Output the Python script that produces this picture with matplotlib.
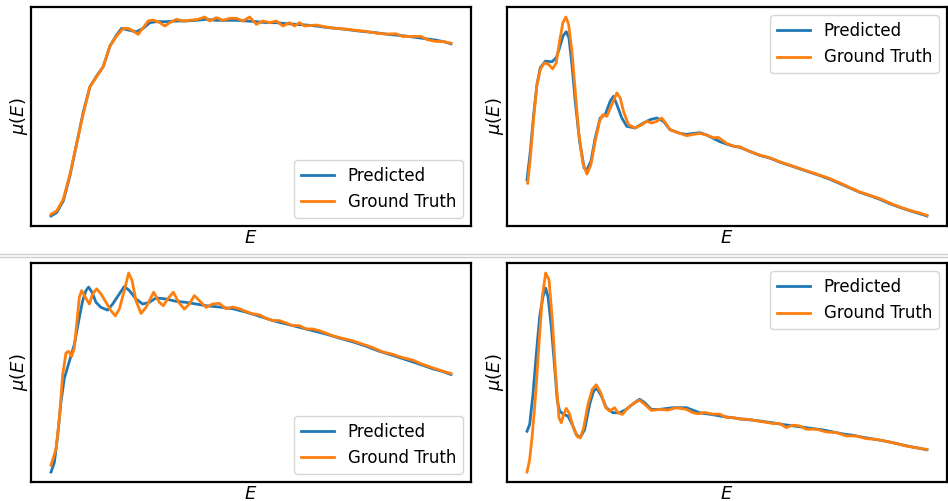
import numpy as np
import matplotlib.pyplot as plt
from matplotlib.lines import Line2D

# ---- spectra (arbitrary units, depth from top) ----
# panel 1 (top left)
e1_gt = [153, 170, 190, 210, 230, 250, 270, 290, 310, 330, 350, 370, 385, 400, 415, 430, 445, 460, 480, 495,
         510, 530, 550, 570, 595, 615, 630, 650, 670, 690, 710, 730, 750, 770, 790, 810, 830, 850, 870, 885,
         900, 915, 950, 980, 1010, 1040, 1070, 1100, 1130, 1160, 1190, 1210, 1240, 1265, 1285, 1310, 1330, 1355]
mu1_gt = [640, 630, 595, 520, 430, 340, 260, 230, 200, 139, 109, 86, 86, 94, 104, 84, 64, 61, 69, 79,
          69, 59, 64, 62, 59, 52, 64, 54, 62, 56, 56, 64, 52, 74, 64, 69, 64, 79, 69, 79,
          69, 79, 76, 82, 86, 88, 92, 95, 100, 103, 102, 110, 110, 110, 120, 125, 125, 130]
e1_pr = [153, 170, 190, 210, 230, 250, 270, 290, 310, 330, 350, 365, 390, 410, 430, 450, 470, 500, 530, 560,
         590, 620, 650, 680, 710, 740, 770, 800, 830, 860, 890, 920, 950, 980, 1010, 1040, 1070, 1100, 1130,
         1160, 1190, 1220, 1250, 1280, 1310, 1335, 1355]
mu1_pr = [645, 635, 600, 525, 430, 335, 260, 228, 200, 139, 106, 86, 92, 96, 86, 69, 66, 66, 64, 64,
          62, 59, 62, 62, 62, 64, 66, 69, 69, 72, 74, 76, 79, 83, 86, 89, 93, 96, 99,
          103, 106, 109, 113, 117, 121, 126, 132]

# panel 2 (top right)
e2_gt = [172, 180, 190, 200, 210, 222, 235, 247, 258, 268, 278, 287, 295, 305, 315, 325, 338, 350, 362, 375,
         388, 398, 410, 425, 440, 450, 460, 475, 495, 515, 530, 545, 560, 575, 590, 600, 630, 650, 670, 690,
         710, 730, 745, 770, 790, 810, 830, 850, 870, 900, 930, 960, 990, 1020, 1050, 1080, 1110, 1140,
         1170, 1200, 1230, 1260, 1290, 1320, 1350, 1372]
mu2_gt = [549, 474, 354, 254, 209, 189, 194, 207, 189, 124, 69, 52, 74, 154, 274, 394, 489, 522, 494, 424,
          364, 344, 349, 314, 279, 294, 334, 374, 384, 374, 364, 369, 364, 354, 374, 389, 400, 407, 403, 400,
          405, 413, 412, 430, 438, 440, 450, 458, 465, 473, 485, 495, 505, 515, 525, 535, 548, 562,
          575, 585, 595, 608, 620, 630, 638, 645]
e2_pr = [170, 180, 190, 200, 210, 225, 245, 258, 268, 278, 288, 296, 305, 315, 328, 342, 350, 362, 375, 390,
         405, 420, 430, 440, 455, 470, 495, 520, 540, 560, 580, 600, 630, 650, 670, 690, 710, 730, 750, 770,
         790, 810, 830, 850, 870, 900, 930, 960, 990, 1020, 1050, 1080, 1110, 1140, 1170, 1200, 1230, 1260,
         1290, 1320, 1350, 1372]
mu2_pr = [539, 454, 344, 254, 204, 184, 186, 174, 144, 109, 96, 114, 194, 304, 424, 504, 509, 484, 414, 354,
          344, 304, 289, 314, 354, 379, 384, 369, 359, 354, 364, 389, 400, 403, 400, 398, 405, 415, 425, 432,
          438, 442, 450, 458, 466, 474, 486, 496, 506, 516, 526, 537, 550, 563, 576, 586, 597, 610,
          621, 631, 640, 647]

# panel 3 (bottom left)
e3_gt = [155, 170, 180, 190, 200, 208, 217, 225, 233, 240, 247, 255, 270, 280, 292, 305, 320, 335, 348, 360,
         375, 388, 398, 410, 425, 440, 463, 480, 492, 505, 522, 538, 555, 570, 585, 600, 620, 640, 660, 680,
         700, 720, 740, 760, 780, 800, 820, 840, 860, 880, 900, 920, 940, 960, 980, 1000, 1030, 1060, 1090,
         1120, 1150, 1180, 1210, 1240, 1270, 1300, 1330, 1355]
mu3_gt = [674, 626, 536, 406, 341, 336, 351, 326, 246, 176, 156, 171, 196, 166, 151, 166, 191, 216, 231, 211,
          156, 104, 126, 186, 224, 206, 161, 191, 201, 181, 161, 191, 211, 196, 171, 186, 206, 196, 194, 210,
          205, 210, 218, 225, 228, 238, 245, 245, 252, 260, 260, 270, 270, 275, 282, 290, 298, 305, 315,
          325, 338, 345, 355, 362, 375, 385, 395, 402]
e3_pr = [155, 165, 175, 185, 195, 210, 225, 238, 250, 260, 268, 278, 290, 305, 325, 340, 360, 375, 390, 410,
         430, 450, 470, 500, 530, 560, 590, 620, 660, 700, 740, 780, 820, 860, 900, 940, 980, 1020, 1060,
         1100, 1140, 1180, 1220, 1260, 1300, 1330, 1355]
mu3_pr = [694, 666, 586, 486, 416, 366, 316, 246, 186, 156, 146, 161, 191, 206, 214, 196, 166, 144, 156, 181,
          196, 191, 178, 181, 188, 191, 196, 201, 205, 210, 220, 232, 245, 255, 265, 275, 285, 297, 308,
          321, 336, 348, 361, 374, 388, 396, 405]

# panel 4 (bottom right)
e4_gt = [172, 180, 188, 198, 208, 218, 228, 238, 248, 258, 268, 275, 282, 290, 300, 310, 322, 332, 342, 355,
         368, 380, 393, 408, 420, 435, 445, 458, 475, 495, 510, 525, 545, 570, 595, 620, 650, 670, 685, 705,
         730, 750, 770, 790, 810, 830, 850, 880, 910, 930, 950, 970, 990, 1010, 1040, 1070, 1100, 1130,
         1160, 1190, 1220, 1250, 1280, 1310, 1340, 1372]
mu4_gt = [697, 660, 586, 466, 316, 176, 106, 126, 246, 406, 536, 551, 526, 508, 526, 561, 591, 596, 566, 496,
          451, 438, 461, 506, 516, 506, 521, 526, 506, 491, 484, 496, 514, 511, 513, 506, 511, 521, 524, 520,
          525, 525, 535, 535, 540, 540, 543, 548, 553, 553, 565, 558, 560, 570, 570, 578, 580, 590,
          590, 598, 600, 606, 612, 620, 625, 630]
e4_pr = [172, 180, 190, 200, 210, 220, 228, 235, 245, 255, 263, 270, 282, 295, 308, 320, 332, 345, 360, 372,
         382, 395, 410, 430, 450, 470, 495, 510, 525, 545, 570, 610, 650, 690, 730, 760, 790, 820, 850, 880,
         910, 940, 970, 1000, 1030, 1060, 1090, 1120, 1150, 1180, 1210, 1240, 1270, 1300, 1330, 1372]
mu4_pr = [576, 556, 466, 346, 236, 176, 151, 176, 266, 386, 486, 516, 526, 531, 556, 586, 594, 571, 496, 456,
          449, 471, 506, 521, 521, 511, 491, 481, 491, 511, 511, 506, 506, 521, 527, 532, 536, 540, 543, 547,
          551, 556, 560, 564, 568, 572, 578, 584, 588, 594, 599, 604, 610, 617, 623, 631]

panels = [
    (e1_pr, mu1_pr, e1_gt, mu1_gt, 'lower right'),
    (e2_pr, mu2_pr, e2_gt, mu2_gt, 'upper right'),
    (e3_pr, mu3_pr, e3_gt, mu3_gt, 'lower right'),
    (e4_pr, mu4_pr, e4_gt, mu4_gt, 'upper right'),
]

fig = plt.figure(figsize=(9.48, 5.01), dpi=100)
boxes = [
    [0.0327, 0.549, 0.4641, 0.437],
    [0.5348, 0.549, 0.4641, 0.437],
    [0.0327, 0.038, 0.4641, 0.437],
    [0.5348, 0.038, 0.4641, 0.437],
]

for box, (ep, mp, eg, mg, loc) in zip(boxes, panels):
    ax = fig.add_axes(box)
    # readings are depth from the top, flip to get absorption
    ax.plot(ep, -np.array(mp), color='#1f77b4', lw=2, label='Predicted')
    ax.plot(eg, -np.array(mg), color='#ff7f0e', lw=2, label='Ground Truth')
    ax.set_xticks([])
    ax.set_yticks([])
    for s in ax.spines.values():
        s.set_linewidth(1.6)
    ax.set_xlabel('$E$', fontsize=13, labelpad=2)
    ax.set_ylabel(r'$\mu(E)$', fontsize=13, labelpad=1)
    ax.legend(loc=loc, fontsize=12)

# thin double rule between the two rows
for y in (0.494, 0.488):
    fig.add_artist(Line2D([0.0, 1.0], [y, y], transform=fig.transFigure, color='#cccccc', lw=1.0))

fig.savefig('out.png', dpi=100)
